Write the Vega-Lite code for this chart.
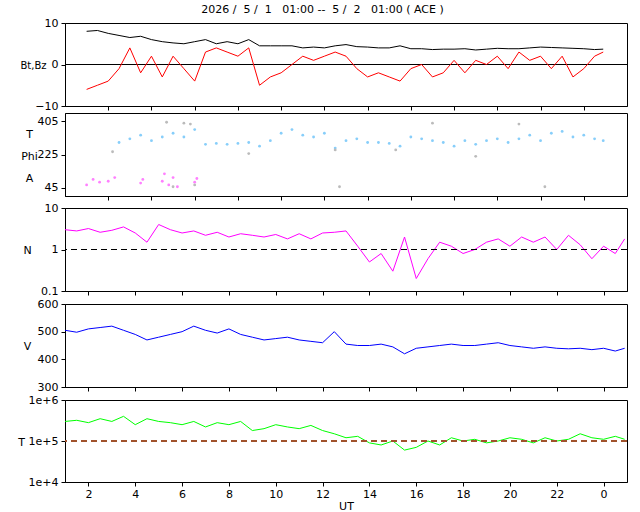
{
"$schema":"https://vega.github.io/schema/vega-lite/v6.json",
"padding":{"left":17,"top":3,"right":12,"bottom":0},
"spacing":0,
"title":{"text":"2026 /\u00a0\u00a05 /\u00a0\u00a01\u00a0\u00a0\u00a001:00 --\u00a0\u00a05 /\u00a0\u00a02\u00a0\u00a0\u00a001:00 ( ACE )","fontSize":11,"fontWeight":"normal","offset":2,"anchor":"middle"},
"config":{"font":"DejaVu Sans","view":{"stroke":"black"},"axis":{"grid":false,"tickSize":4,"labelPadding":3,"labelFontSize":11,"titleFontSize":11,"titleFontWeight":"normal","domainColor":"black","tickColor":"black","labelColor":"black","titleColor":"black"}},
"datasets":{
"m":[
{"t":1,"bt":8,"bz":-6,"phi":null,"n":3.0,"v":505,"temp":300000},
{"t":1.5,"bt":8.2,"bz":-5,"phi":null,"n":2.8,"v":498,"temp":320000},
{"t":2,"bt":7.5,"bz":-4,"phi":null,"n":3.2,"v":510,"temp":280000},
{"t":2.5,"bt":7,"bz":-1,"phi":290,"n":2.6,"v":515,"temp":350000},
{"t":3,"bt":6.5,"bz":4,"phi":310,"n":2.9,"v":520,"temp":300000},
{"t":3.5,"bt":6.8,"bz":-2,"phi":330,"n":3.5,"v":505,"temp":400000},
{"t":4,"bt":6,"bz":2,"phi":300,"n":2.5,"v":490,"temp":250000},
{"t":4.5,"bt":5.5,"bz":-3,"phi":320,"n":1.5,"v":470,"temp":350000},
{"t":5,"bt":5.2,"bz":2,"phi":340,"n":4,"v":480,"temp":300000},
{"t":5.5,"bt":5,"bz":-1,"phi":320,"n":3,"v":490,"temp":280000},
{"t":6,"bt":5.5,"bz":-4,"phi":360,"n":2.5,"v":500,"temp":250000},
{"t":6.5,"bt":6,"bz":3,"phi":280,"n":2.8,"v":520,"temp":300000},
{"t":7,"bt":5,"bz":4,"phi":285,"n":2.2,"v":505,"temp":220000},
{"t":7.5,"bt":5.5,"bz":3,"phi":280,"n":2.6,"v":495,"temp":280000},
{"t":8,"bt":5,"bz":2,"phi":285,"n":2.0,"v":510,"temp":250000},
{"t":8.5,"bt":6,"bz":4,"phi":290,"n":2.4,"v":490,"temp":300000},
{"t":9,"bt":4.5,"bz":-5,"phi":270,"n":2.2,"v":480,"temp":180000},
{"t":9.5,"bt":4.5,"bz":-3,"phi":300,"n":2.0,"v":470,"temp":200000},
{"t":10,"bt":4.5,"bz":-2,"phi":340,"n":2.3,"v":475,"temp":250000},
{"t":10.5,"bt":4.5,"bz":0,"phi":360,"n":1.8,"v":480,"temp":220000},
{"t":11,"bt":4,"bz":2,"phi":330,"n":2.4,"v":470,"temp":200000},
{"t":11.5,"bt":4.2,"bz":1,"phi":320,"n":1.8,"v":465,"temp":240000},
{"t":12,"bt":4,"bz":2,"phi":340,"n":2.5,"v":460,"temp":180000},
{"t":12.5,"bt":4.5,"bz":3,"phi":260,"n":2.6,"v":500,"temp":150000},
{"t":13,"bt":4.8,"bz":2,"phi":300,"n":2.8,"v":455,"temp":120000},
{"t":13.5,"bt":4.3,"bz":-1,"phi":310,"n":1.2,"v":450,"temp":130000},
{"t":14,"bt":4.2,"bz":-3,"phi":290,"n":0.5,"v":450,"temp":90000},
{"t":14.5,"bt":4,"bz":-2,"phi":290,"n":0.8,"v":455,"temp":80000},
{"t":15,"bt":4,"bz":-3,"phi":285,"n":0.3,"v":445,"temp":100000},
{"t":15.5,"bt":4.5,"bz":-4,"phi":270,"n":2.0,"v":420,"temp":60000},
{"t":16,"bt":3.8,"bz":-1,"phi":320,"n":0.2,"v":440,"temp":70000},
{"t":16.5,"bt":3.8,"bz":0,"phi":310,"n":0.6,"v":445,"temp":100000},
{"t":17,"bt":3.6,"bz":-3,"phi":300,"n":1.5,"v":450,"temp":80000},
{"t":17.5,"bt":3.7,"bz":-2,"phi":290,"n":1.2,"v":455,"temp":120000},
{"t":18,"bt":3.7,"bz":1,"phi":270,"n":0.8,"v":450,"temp":100000},
{"t":18.5,"bt":3.8,"bz":-2,"phi":300,"n":1.0,"v":450,"temp":110000},
{"t":19,"bt":3.5,"bz":1,"phi":280,"n":1.5,"v":455,"temp":90000},
{"t":19.5,"bt":3.7,"bz":0,"phi":300,"n":1.8,"v":460,"temp":100000},
{"t":20,"bt":3.9,"bz":2,"phi":310,"n":1.2,"v":450,"temp":120000},
{"t":20.5,"bt":3.8,"bz":-1,"phi":290,"n":2.0,"v":445,"temp":110000},
{"t":21,"bt":3.8,"bz":3,"phi":310,"n":1.5,"v":440,"temp":90000},
{"t":21.5,"bt":4,"bz":1,"phi":330,"n":2.0,"v":445,"temp":120000},
{"t":22,"bt":4.2,"bz":2,"phi":300,"n":1.0,"v":440,"temp":100000},
{"t":22.5,"bt":4.1,"bz":-1,"phi":340,"n":2.2,"v":438,"temp":110000},
{"t":23,"bt":4,"bz":2,"phi":350,"n":1.3,"v":440,"temp":150000},
{"t":23.5,"bt":3.9,"bz":-3,"phi":320,"n":0.6,"v":435,"temp":120000},
{"t":24,"bt":3.8,"bz":-1,"phi":330,"n":1.2,"v":440,"temp":110000},
{"t":24.5,"bt":3.6,"bz":2,"phi":310,"n":0.8,"v":430,"temp":130000},
{"t":24.9,"bt":3.7,"bz":3,"phi":300,"n":1.8,"v":440,"temp":110000}
],
"e":[
{"t":1,"val":60,"k":"a"},{"t":1.3,"val":90,"k":"a"},{"t":1.6,"val":75,"k":"a"},{"t":2,"val":80,"k":"a"},{"t":2.3,"val":100,"k":"a"},{"t":3.5,"val":70,"k":"a"},{"t":3.6,"val":90,"k":"a"},{"t":4.5,"val":80,"k":"a"},{"t":4.6,"val":120,"k":"a"},{"t":4.8,"val":60,"k":"a"},{"t":5,"val":100,"k":"a"},{"t":6,"val":75,"k":"a"},{"t":6.1,"val":95,"k":"a"},{"t":5.2,"val":50,"k":"a"},
{"t":4.7,"val":400,"k":"g"},{"t":5.5,"val":395,"k":"g"},{"t":5.8,"val":390,"k":"g"},{"t":8.5,"val":230,"k":"g"},{"t":12.5,"val":250,"k":"g"},{"t":12.7,"val":50,"k":"g"},{"t":17,"val":395,"k":"g"},{"t":19,"val":215,"k":"g"},{"t":21,"val":390,"k":"g"},{"t":22.2,"val":50,"k":"g"},{"t":5,"val":50,"k":"g"},{"t":6,"val":60,"k":"g"},{"t":2.2,"val":240,"k":"g"},{"t":15.3,"val":250,"k":"g"}
]},
"vconcat":[
{"width":562,"height":83,"data":{"name":"m"},"layer":[
{"mark":{"type":"rule","color":"black"},"encoding":{"y":{"datum":0}}},
{"mark":{"type":"line","color":"black","strokeWidth":1},"encoding":{"x":{"field":"t","type":"quantitative","scale":{"domain":[1,25]},"axis":{"values":[2,4,6,8,10,12,14,16,18,20,22,24],"labels":false,"title":null}},"y":{"field":"bt","type":"quantitative","scale":{"domain":[-10,10]},"axis":{"values":[-10,-5,0,5,10],"title":"Bt,Bz","titleAngle":0,"titleFontSize":10,"titleAlign":"center","titleBaseline":"middle","titleX":-32,"titleY":42}}}},
{"mark":{"type":"line","color":"red","strokeWidth":1},"encoding":{"x":{"field":"t","type":"quantitative"},"y":{"field":"bz","type":"quantitative"}}}
]},
{"width":562,"height":83,"layer":[
{"data":{"name":"m"},"mark":{"type":"point","filled":true,"size":8,"color":"#87cefa","opacity":1},"encoding":{"x":{"field":"t","type":"quantitative","scale":{"domain":[1,25]},"axis":{"values":[2,4,6,8,10,12,14,16,18,20,22,24],"labels":false,"title":null}},"y":{"field":"phi","type":"quantitative","scale":{"domain":[45,405]},"axis":{"values":[45,135,225,315,405],"title":["T","Phi","A"],"titleAngle":0,"titleLineHeight":22,"titleAlign":"center","titleBaseline":"top","titleX":-36,"titleY":15}}}},
{"data":{"name":"e"},"mark":{"type":"point","filled":true,"size":8,"opacity":1},"encoding":{"x":{"field":"t","type":"quantitative"},"y":{"field":"val","type":"quantitative"},"color":{"field":"k","type":"nominal","scale":{"domain":["a","g"],"range":["#ff80ff","#bbbbbb"]},"legend":null}}},
{"mark":{"type":"rule","color":"#a0522d","strokeDash":[6,4]},"encoding":{"y":{"datum":225}}}
]},
{"width":562,"height":83,"data":{"name":"m"},"layer":[
{"mark":{"type":"line","color":"magenta","strokeWidth":1},"encoding":{"x":{"field":"t","type":"quantitative","scale":{"domain":[1,25]},"axis":{"values":[2,4,6,8,10,12,14,16,18,20,22,24],"labels":false,"title":null}},"y":{"field":"n","type":"quantitative","scale":{"type":"log","domain":[0.1,10]},"axis":{"values":[0.1,1,10],"format":"~g","title":"N","titleAngle":0,"titleAlign":"center","titleBaseline":"middle","titleX":-38,"titleY":42}}}},
{"mark":{"type":"rule","color":"black","strokeDash":[6,4]},"encoding":{"y":{"datum":1}}}
]},
{"width":562,"height":83,"data":{"name":"m"},"layer":[
{"mark":{"type":"line","color":"blue","strokeWidth":1},"encoding":{"x":{"field":"t","type":"quantitative","scale":{"domain":[1,25]},"axis":{"values":[2,4,6,8,10,12,14,16,18,20,22,24],"labels":false,"title":null}},"y":{"field":"v","type":"quantitative","scale":{"domain":[300,600]},"axis":{"values":[300,400,500,600],"title":"V","titleAngle":0,"titleAlign":"center","titleBaseline":"middle","titleX":-38,"titleY":42}}}}
]},
{"width":562,"height":82,"data":{"name":"m"},"layer":[
{"mark":{"type":"line","color":"#00ff00","strokeWidth":1},"encoding":{"x":{"field":"t","type":"quantitative","scale":{"domain":[1,25]},"axis":{"values":[2,4,6,8,10,12,14,16,18,20,22,24],"labelExpr":"datum.value % 24","title":"UT","titlePadding":1,"labelPadding":2}},"y":{"field":"temp","type":"quantitative","scale":{"type":"log","domain":[10000,1000000]},"axis":{"values":[10000,100000,1000000],"labelExpr":"datum.value==10000?'1e+4':datum.value==100000?'1e+5':'1e+6'","title":"T","titleAngle":0,"titleAlign":"center","titleBaseline":"middle","titleX":-44,"titleY":42}}}},
{"mark":{"type":"rule","color":"#a0522d","strokeDash":[6,4]},"encoding":{"y":{"datum":100000}}}
]}
]}
